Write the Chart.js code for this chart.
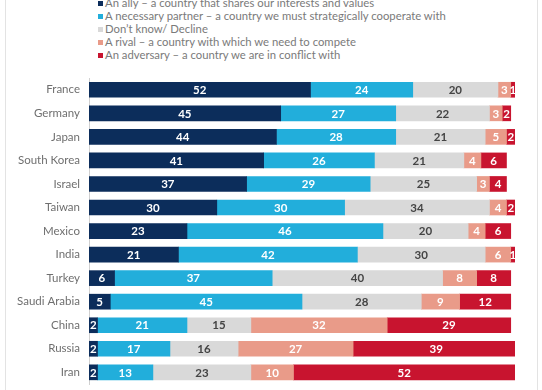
<!DOCTYPE html>
<html>
<head>
<meta charset="utf-8">
<script src="https://cdn.jsdelivr.net/npm/chart.js@4"></script>
<style>
    html, body { margin: 0; padding: 0; background: #fff; }
    #wrap { position: relative; width: 542px; height: 390px; overflow: hidden; }
    #frame { position: absolute; left: 5px; top: -2px; width: 531px; height: 400px; border-left: 1px solid #e3e3e3; border-right: 1px solid #e3e3e3; }
    #legend { position: absolute; left: 98px; top: -4px; font-family: Lato, sans-serif; font-size: 11.3px; color: #7a7a7a; }
    #legend div { height: 13px; line-height: 13px; white-space: nowrap; }
    #legend span { display: inline-block; width: 5px; height: 5px; margin-right: 2px; vertical-align: 1px; }
    canvas { position: absolute; left: 0; top: 0; }
</style>
</head>
<body>
<div id="wrap">
    <div id="frame"></div>
    <div id="legend"></div>
    <canvas id="chart" width="542" height="400"></canvas>
</div>
<script>
const countries = ['France', 'Germany', 'Japan', 'South Korea', 'Israel', 'Taiwan', 'Mexico', 'India', 'Turkey', 'Saudi Arabia', 'China', 'Russia', 'Iran'];

const ally = [52, 45, 44, 41, 37, 30, 23, 21, 6, 5, 2, 2, 2];
const partner = [24, 27, 28, 26, 29, 30, 46, 42, 37, 45, 21, 17, 13];
const dontKnow = [20, 22, 21, 21, 25, 34, 20, 30, 40, 28, 15, 16, 23];
const rival = [3, 3, 5, 4, 3, 4, 4, 6, 8, 9, 32, 27, 10];
const adversary = [1, 2, 2, 6, 4, 2, 6, 1, 8, 12, 29, 39, 52];

const seriesNames = [
    'An ally – a country that shares our interests and values',
    'A necessary partner – a country we must strategically cooperate with',
    'Don’t know/ Decline',
    'A rival – a country with which we need to compete',
    'An adversary – a country we are in conflict with'
];
const seriesColors = ['#0c2d5b', '#22aedb', '#d9d9d9', '#e99b89', '#c8142f'];
const labelColors = ['#fff', '#fff', '#444', '#fff', '#fff'];
const seriesData = [ally, partner, dontKnow, rival, adversary];

// legend
const legend = document.getElementById('legend');
seriesNames.forEach((name, i) => {
    const row = document.createElement('div');
    row.innerHTML = `<span style="background:${seriesColors[i]}"></span>${name}`;
    legend.appendChild(row);
});

const barLabels = {
    id: 'barLabels',
    afterDatasetsDraw(chart) {
        const ctx = chart.ctx;
        ctx.save();
        ctx.font = 'bold 11.5px Lato, sans-serif';
        ctx.textAlign = 'center';
        ctx.textBaseline = 'middle';
        chart.data.datasets.forEach((ds, i) => {
            const meta = chart.getDatasetMeta(i);
            meta.data.forEach((bar, j) => {
                const x = (bar.x + bar.base) / 2;
                ctx.fillStyle = labelColors[i];
                ctx.fillText(ds.data[j], x, bar.y + 0.5);
            });
        });
        ctx.restore();
    }
};

new Chart(document.getElementById('chart').getContext('2d'), {
    type: 'bar',
    data: {
        labels: countries,
        datasets: seriesData.map((d, i) => ({
            label: seriesNames[i],
            data: d,
            backgroundColor: seriesColors[i],
            borderWidth: 0,
            barThickness: 15
        }))
    },
    options: {
        indexAxis: 'y',
        responsive: false,
        animation: false,
        layout: { padding: { left: 0, right: 27, top: 78, bottom: 5 } },
        plugins: {
            legend: { display: false },
            tooltip: { enabled: false }
        },
        scales: {
            x: { stacked: true, min: 0, max: 100, display: false },
            y: {
                stacked: true,
                afterFit(scale) { scale.width = 89; },
                grid: { display: false, drawTicks: false },
                border: { display: true, color: '#d0d0d0', width: 1 },
                ticks: {
                    padding: 9,
                    color: '#6f6f6f',
                    font: { family: 'Lato, sans-serif', size: 11.5 }
                }
            }
        }
    },
    plugins: [barLabels]
});
</script>
</body>
</html>
